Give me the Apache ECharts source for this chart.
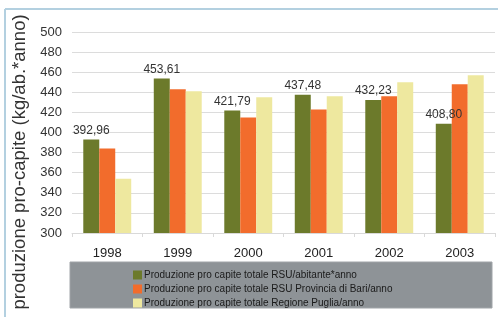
<!DOCTYPE html>
<html>
<head>
<meta charset="utf-8">
<script src="https://cdn.jsdelivr.net/npm/echarts@6/dist/echarts.min.js"></script>
<style>
  html, body { margin: 0; padding: 0; background: #fff; }
  #chart { width: 498px; height: 317px; }
</style>
</head>
<body>
<div id="chart"></div>
<script>
// dati
var anni = ["1998", "1999", "2000", "2001", "2002", "2003"];
var rsuAbitante = [392.96, 453.61, 421.79, 437.48, 432.23, 408.80];
var provinciaBari = [384, 443, 415, 423, 436, 448];
var regionePuglia = [354, 441, 435, 436, 450, 457];
var nomiSerie = [
  "Produzione pro capite totale RSU/abitante*anno",
  "Produzione pro capite totale RSU Provincia di Bari/anno",
  "Produzione pro capite totale Regione Puglia/anno"
];

var chart = echarts.init(document.getElementById("chart"));

function barSeries(name, data, color, withLabel) {
  return {
    name: name,
    type: "bar",
    data: data,
    barGap: "0%",
    barCategoryGap: "32%",
    itemStyle: { color: color },
    label: {
      show: withLabel,
      position: "top",
      color: "#333",
      fontSize: 12,
      distance: 3,
      formatter: function (p) {
        return p.value.toFixed(2).replace(".", ",");
      }
    }
  };
}

var option = {
  animation: false,
  textStyle: { fontFamily: "Liberation Sans, Arial, sans-serif" },
  grid: { left: 72, right: 3, top: 32, bottom: 84 },
  graphic: [
    // cornice azzurra
    { type: "line", shape: { x1: 5, y1: 9, x2: 498, y2: 9 }, style: { stroke: "#b3d0e0", lineWidth: 2 } },
    { type: "line", shape: { x1: 5, y1: 9, x2: 5, y2: 317 }, style: { stroke: "#b3d0e0", lineWidth: 2 } },
    // sfondo legenda
    { type: "rect", shape: { x: 70, y: 262, width: 422, height: 46 }, style: { fill: "#8e9397", stroke: "#a0a4a8" }, z: 0 },
    {
      type: "text",
      x: 20, y: 162,
      rotation: Math.PI / 2,
      style: {
        text: "produzione pro-capite (kg/ab.*anno)",
        fill: "#333",
        fontSize: 18.5,
        fontFamily: "Liberation Sans, Arial, sans-serif",
        align: "center",
        verticalAlign: "middle"
      }
    }
  ],
  legend: {
    orient: "vertical",
    left: 128,
    top: 265,
    itemWidth: 9,
    itemHeight: 9,
    itemGap: 4,
    icon: "rect",
    textStyle: { fontSize: 10, color: "#1a1a1a", padding: [0, 0, 0, -3] },
    data: nomiSerie,
    z: 10
  },
  xAxis: {
    type: "category",
    data: anni,
    axisLine: { lineStyle: { color: "#d9d9d9" } },
    axisTick: { show: true, length: 4, lineStyle: { color: "#d9d9d9" } },
    axisLabel: { color: "#222", fontSize: 13, margin: 14 }
  },
  yAxis: {
    type: "value",
    min: 300,
    max: 500,
    interval: 20,
    axisLine: { show: false },
    axisTick: { show: false },
    axisLabel: { color: "#333", fontSize: 13, margin: 10 },
    splitLine: { lineStyle: { color: "#dcdcdc" } }
  },
  series: [
    barSeries(nomiSerie[0], rsuAbitante, "#6c7a2b", true),
    barSeries(nomiSerie[1], provinciaBari, "#f26c2c", false),
    barSeries(nomiSerie[2], regionePuglia, "#eee89f", false)
  ]
};

chart.setOption(option);
</script>
</body>
</html>
